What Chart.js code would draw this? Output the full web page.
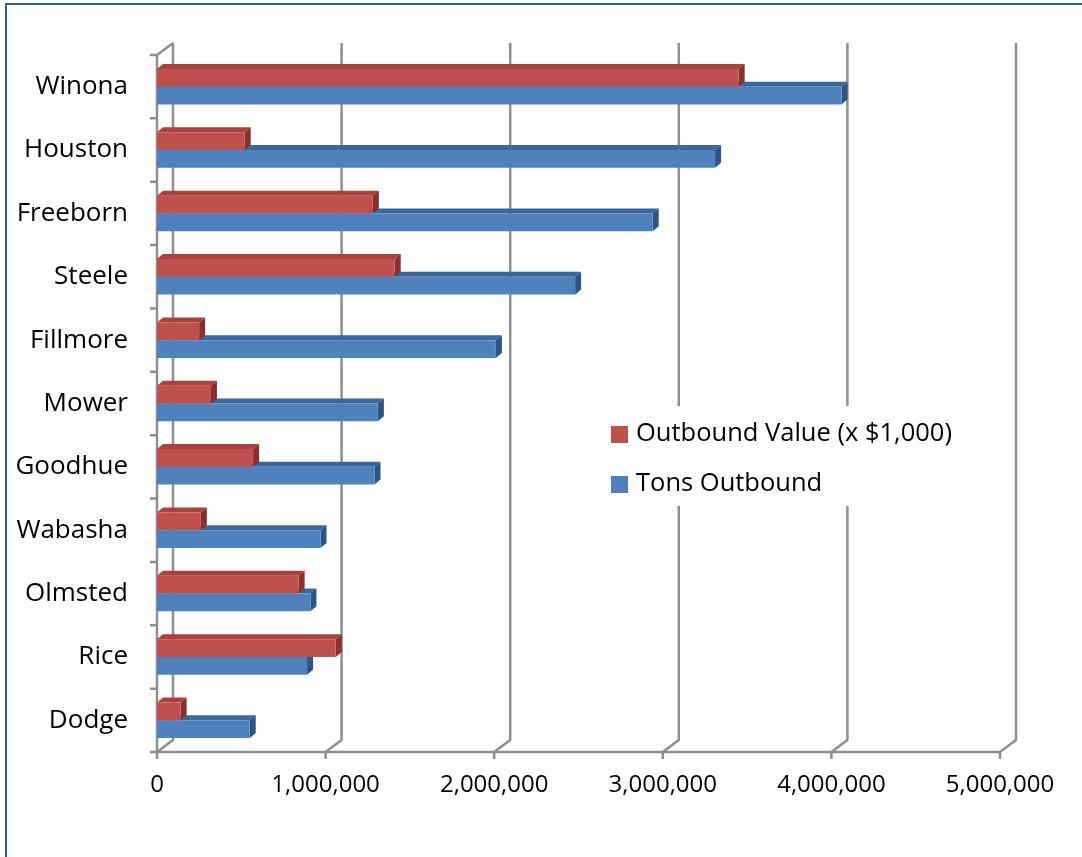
<!DOCTYPE html>
<html>
<head>
<meta charset="utf-8">
<script src="https://cdn.jsdelivr.net/npm/chart.js@4.4.1/dist/chart.umd.min.js"></script>
<style>
  html, body { margin: 0; padding: 0; background: #fff; overflow: hidden; }
  #frame { position: absolute; left: 5px; top: 3px; width: 2000px; height: 2000px;
           border-left: 2px solid #2563ad; border-top: 2px solid #2563ad; }
  #wrap { position: absolute; left: 0; top: 0; width: 1082px; height: 857px; }
</style>
</head>
<body>
<div id="frame"></div>
<div id="wrap"><canvas id="chart" width="1082" height="857"></canvas></div>
<script>
const categories = ['Winona', 'Houston', 'Freeborn', 'Steele', 'Fillmore', 'Mower', 'Goodhue', 'Wabasha', 'Olmsted', 'Rice', 'Dodge'];
const outboundValue = [3450000, 520000, 1280000, 1410000, 250000, 320000, 570000, 260000, 840000, 1060000, 140000];
const tonsOutbound = [4060000, 3310000, 2940000, 2480000, 2010000, 1310000, 1290000, 970000, 910000, 890000, 550000];
const xTicks = [0, 1000000, 2000000, 3000000, 4000000, 5000000];
const seriesNames = ['Outbound Value (x $1,000)', 'Tons Outbound'];

const FONT = "'Open Sans', 'DejaVu Sans', sans-serif";
const GRID = '#8f8f8f';
const DX = 16, DY = 12;      // depth of the back wall
const BDX = 6, BDY = 5;      // depth of the bars

const faces = {
  '#C0504D': { top: '#a8423f', side: '#8a2f2c' },
  '#4F81BD': { top: '#3c679c', side: '#2d5487' }
};

// walls, floor and gridlines
const frame3d = {
  id: 'frame3d',
  beforeDatasetsDraw(chart) {
    const ctx = chart.ctx, xs = chart.scales.x, ca = chart.chartArea;
    ctx.save();
    ctx.strokeStyle = GRID;
    ctx.lineWidth = 2.5;
    ctx.lineJoin = 'round';
    xTicks.forEach(v => {
      const fx = xs.getPixelForValue(v);
      ctx.beginPath();
      ctx.moveTo(fx, ca.bottom + 7);
      ctx.lineTo(fx, ca.bottom);
      ctx.lineTo(fx + DX, ca.bottom - DY);
      ctx.lineTo(fx + DX, ca.top - DY);
      ctx.stroke();
    });
    ctx.beginPath();
    ctx.moveTo(ca.left, ca.bottom);
    ctx.lineTo(ca.right, ca.bottom);
    ctx.moveTo(ca.left, ca.bottom);
    ctx.lineTo(ca.left, ca.top);
    ctx.lineTo(ca.left + DX, ca.top - DY);
    const n = categories.length;
    for (let i = 0; i <= n; i++) {
      const y = ca.top + i * ca.height / n;
      ctx.moveTo(ca.left - 7, y);
      ctx.lineTo(ca.left, y);
    }
    ctx.stroke();
    ctx.restore();
  },
  beforeDatasetDraw(chart, args) {
    const ctx = chart.ctx;
    const ds = chart.data.datasets[args.index];
    const f = faces[ds.backgroundColor];
    ctx.save();
    args.meta.data.forEach(bar => {
      const p = bar.getProps(['x', 'y', 'base', 'height'], true);
      const top = p.y - p.height / 2, bot = p.y + p.height / 2;
      ctx.fillStyle = f.top;
      ctx.beginPath();
      ctx.moveTo(p.base, top);
      ctx.lineTo(p.x, top);
      ctx.lineTo(p.x + BDX, top - BDY);
      ctx.lineTo(p.base + BDX, top - BDY);
      ctx.closePath();
      ctx.fill();
      ctx.fillStyle = f.side;
      ctx.beginPath();
      ctx.moveTo(p.x, top);
      ctx.lineTo(p.x + BDX, top - BDY);
      ctx.lineTo(p.x + BDX, bot - BDY);
      ctx.lineTo(p.x, bot);
      ctx.closePath();
      ctx.fill();
    });
    ctx.restore();
  }
};

// legend sitting inside the plot
const innerLegend = {
  id: 'innerLegend',
  afterDraw(chart) {
    const ctx = chart.ctx;
    ctx.save();
    ctx.fillStyle = '#fff';
    ctx.fillRect(600, 406, 362, 100);
    ctx.font = '25.5px ' + FONT;
    ctx.textBaseline = 'middle';
    chart.data.datasets.forEach((ds, i) => {
      const y = 434 + i * 50;
      ctx.fillStyle = ds.backgroundColor;
      ctx.fillRect(611, y - 8, 17, 17);
      ctx.fillStyle = '#000';
      ctx.fillText(ds.label, 636, y);
    });
    ctx.restore();
  }
};

new Chart(document.getElementById('chart'), {
  type: 'bar',
  data: {
    labels: categories,
    datasets: [
      { label: seriesNames[0], data: outboundValue, backgroundColor: '#C0504D' },
      { label: seriesNames[1], data: tonsOutbound, backgroundColor: '#4F81BD' }
    ]
  },
  options: {
    indexAxis: 'y',
    responsive: false,
    animation: false,
    devicePixelRatio: 1,
    layout: { padding: { top: 55, right: 82, bottom: 0, left: 0 } },
    datasets: { bar: { categoryPercentage: 0.56, barPercentage: 1.0, borderWidth: 0 } },
    scales: {
      x: {
        min: 0, max: 5000000,
        afterFit: s => { s.height = 105; },
        afterBuildTicks: s => { s.ticks = xTicks.map(v => ({ value: v })); },
        grid: { display: false, drawTicks: false },
        border: { display: false },
        ticks: {
          padding: 19,
          color: '#000',
          font: { family: FONT, size: 24 },
          callback: v => v.toLocaleString('en-US')
        }
      },
      y: {
        afterFit: s => { s.width = 157; },
        grid: { display: false, drawTicks: false },
        border: { display: false },
        ticks: { padding: 29, color: '#000', font: { family: FONT, size: 26 } }
      }
    },
    plugins: { legend: { display: false }, tooltip: { enabled: false } }
  },
  plugins: [frame3d, innerLegend]
});
</script>
</body>
</html>
